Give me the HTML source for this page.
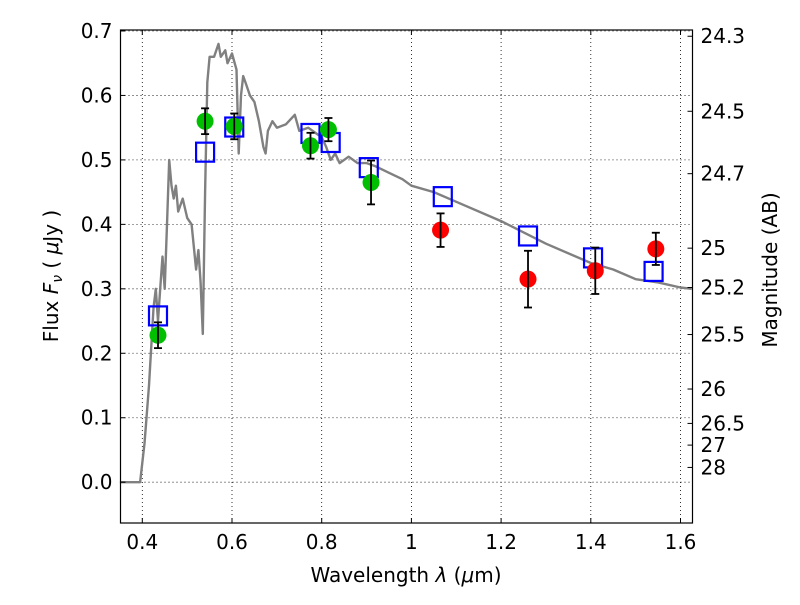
<!DOCTYPE html>
<html><head><meta charset="utf-8"><style>
body{margin:0;background:#fff}
svg text{font-family:"DejaVu Sans","Liberation Sans",sans-serif;fill:#000}
</style></head><body>
<svg id="chart" width="800" height="600">
<rect x="0" y="0" width="800" height="600" fill="#fff"/>
<g id="grid"></g>
<g id="spec"></g>
<g id="marks"></g>
<rect x="120.5" y="30" width="572" height="493" fill="none" stroke="#000" stroke-width="1.2"/>
<g id="axes"></g>
<text x="406" y="582" font-size="20" text-anchor="middle">Wavelength  <tspan font-style="italic">λ</tspan> (<tspan font-style="italic">μ</tspan>m)</text>
<text transform="translate(58,276) rotate(-90)" font-size="20" text-anchor="middle">Flux  <tspan font-style="italic">F</tspan><tspan font-style="italic" font-size="14" dy="4">ν</tspan><tspan dy="-4">  ( </tspan><tspan font-style="italic">μ</tspan>Jy )</text>
<text transform="translate(777,270) rotate(-90)" font-size="20" text-anchor="middle">Magnitude (AB)</text>
</svg>
<script>
const xTicks=[0.4,0.6,0.8,1.0,1.2,1.4,1.6];
const xTickLabels=["0.4","0.6","0.8","1","1.2","1.4","1.6"];
const yTicks=[0,0.1,0.2,0.3,0.4,0.5,0.6,0.7];
const yTickLabels=["0.0","0.1","0.2","0.3","0.4","0.5","0.6","0.7"];
const magTicks=[24.3,24.5,24.7,25,25.2,25.5,26,26.5,27,28];
const specWave=[0.35,0.395,0.40,0.405,0.415,0.425,0.43,0.435,0.44,0.445,0.45,0.455,0.46,0.465,0.47,0.475,0.48,0.49,0.5,0.51,0.52,0.525,0.53,0.535,0.54,0.545,0.55,0.56,0.57,0.575,0.585,0.59,0.6,0.61,0.615,0.62,0.625,0.63,0.64,0.65,0.66,0.67,0.675,0.68,0.69,0.7,0.72,0.74,0.75,0.77,0.79,0.8,0.81,0.82,0.83,0.84,0.86,0.88,0.9,0.92,0.95,0.98,1.0,1.05,1.1,1.2,1.3,1.4,1.45,1.5,1.55,1.6,1.625];
const specFlux=[0,0,0.03,0.06,0.15,0.27,0.30,0.25,0.30,0.35,0.30,0.40,0.50,0.46,0.44,0.46,0.42,0.44,0.41,0.40,0.33,0.36,0.31,0.23,0.45,0.62,0.66,0.66,0.68,0.66,0.67,0.65,0.665,0.64,0.51,0.60,0.63,0.62,0.60,0.59,0.56,0.52,0.51,0.545,0.56,0.55,0.555,0.57,0.545,0.55,0.54,0.535,0.52,0.50,0.51,0.495,0.505,0.495,0.495,0.49,0.48,0.47,0.46,0.45,0.435,0.405,0.37,0.34,0.33,0.315,0.31,0.302,0.30];
const greenWave=[0.435,0.54,0.605,0.775,0.815,0.91];
const greenFlux=[0.228,0.56,0.552,0.522,0.547,0.465];
const greenErr=[0.02,0.02,0.02,0.02,0.018,0.034];
const redWave=[1.065,1.26,1.41,1.545];
const redFlux=[0.391,0.315,0.328,0.362];
const redErr=[0.026,0.044,0.036,0.025];
const modelWave=[0.435,0.54,0.605,0.775,0.82,0.905,1.07,1.26,1.405,1.54];
const modelFlux=[0.258,0.512,0.551,0.541,0.527,0.488,0.443,0.382,0.348,0.327];

const L=120.5,R=692.5,T=30,B=523;
const X=v=>142.3+(v-0.4)*448.5;
const Y=v=>482.2-v*644.6;
const NS="http://www.w3.org/2000/svg";
function mk(tag,attrs,parent){const e=document.createElementNS(NS,tag);for(const k in attrs)e.setAttribute(k,attrs[k]);parent.appendChild(e);return e;}
const grid=document.getElementById('grid'),axes=document.getElementById('axes'),spec=document.getElementById('spec'),marks=document.getElementById('marks');
xTicks.forEach((t,i)=>{const x=X(t);
 const g=mk('line',{x1:x,x2:x,y1:T,y2:B,stroke:'#000','stroke-width':0.8,'stroke-dasharray':'1,3'},grid);
 
 
 mk('line',{x1:x,x2:x,y1:B,y2:B-5,stroke:'#000'},axes);
 mk('line',{x1:x,x2:x,y1:T,y2:T+5,stroke:'#000'},axes);
 const tx=mk('text',{x:x,y:B+26,'font-size':20,'text-anchor':'middle'},axes);tx.textContent=xTickLabels[i];
 
 
});
yTicks.forEach((t,i)=>{const y=Y(t);
 const g=mk('line',{x1:L,x2:R,y1:y,y2:y,stroke:'#000','stroke-width':0.8,'stroke-dasharray':'1,3'},grid);
 
 
 mk('line',{x1:L,x2:L+5,y1:y,y2:y,stroke:'#000'},axes);
 const tx=mk('text',{x:L-8,y:y+7,'font-size':20,'text-anchor':'end'},axes);tx.textContent=yTickLabels[i];
 
 
});
magTicks.forEach(m=>{const y=Y(Math.pow(10,(23.9-m)/2.5));
 mk('line',{x1:R-5,x2:R,y1:y,y2:y,stroke:'#000'},axes);
 const tx=mk('text',{x:R+8,y:y+7,'font-size':20},axes);tx.textContent=String(m);
 
 
});
const pts=specWave.map((w,i)=>X(Math.min(w,1.625)).toFixed(1)+','+Y(specFlux[i]).toFixed(1)).join(' ');
const pl=mk('polyline',{points:pts,fill:'none',stroke:'#808080','stroke-width':2.4,'stroke-linejoin':'round'},spec);


function errbar(w,f,e){const x=X(w);
 mk('line',{x1:x,x2:x,y1:Y(f-e),y2:Y(f+e),stroke:'#000','stroke-width':1.8},marks);
 mk('line',{x1:x-4,x2:x+4,y1:Y(f-e),y2:Y(f-e),stroke:'#000','stroke-width':1.8},marks);
 mk('line',{x1:x-4,x2:x+4,y1:Y(f+e),y2:Y(f+e),stroke:'#000','stroke-width':1.8},marks);}
modelWave.forEach((w,i)=>{
 const r=mk('rect',{x:X(w)-9,y:Y(modelFlux[i])-9.5,width:18,height:19,fill:'none',stroke:'#0000ff','stroke-width':2.2},marks);
 
 
});
greenWave.forEach((w,i)=>{
 const c=mk('circle',{cx:X(w),cy:Y(greenFlux[i]),r:8.5,fill:'#00bf00'},marks);
 
 
 errbar(w,greenFlux[i],greenErr[i]);
});
redWave.forEach((w,i)=>{
 const c=mk('circle',{cx:X(w),cy:Y(redFlux[i]),r:8.5,fill:'#ff0000'},marks);
 
 
 errbar(w,redFlux[i],redErr[i]);
});
</script>
</body></html>
